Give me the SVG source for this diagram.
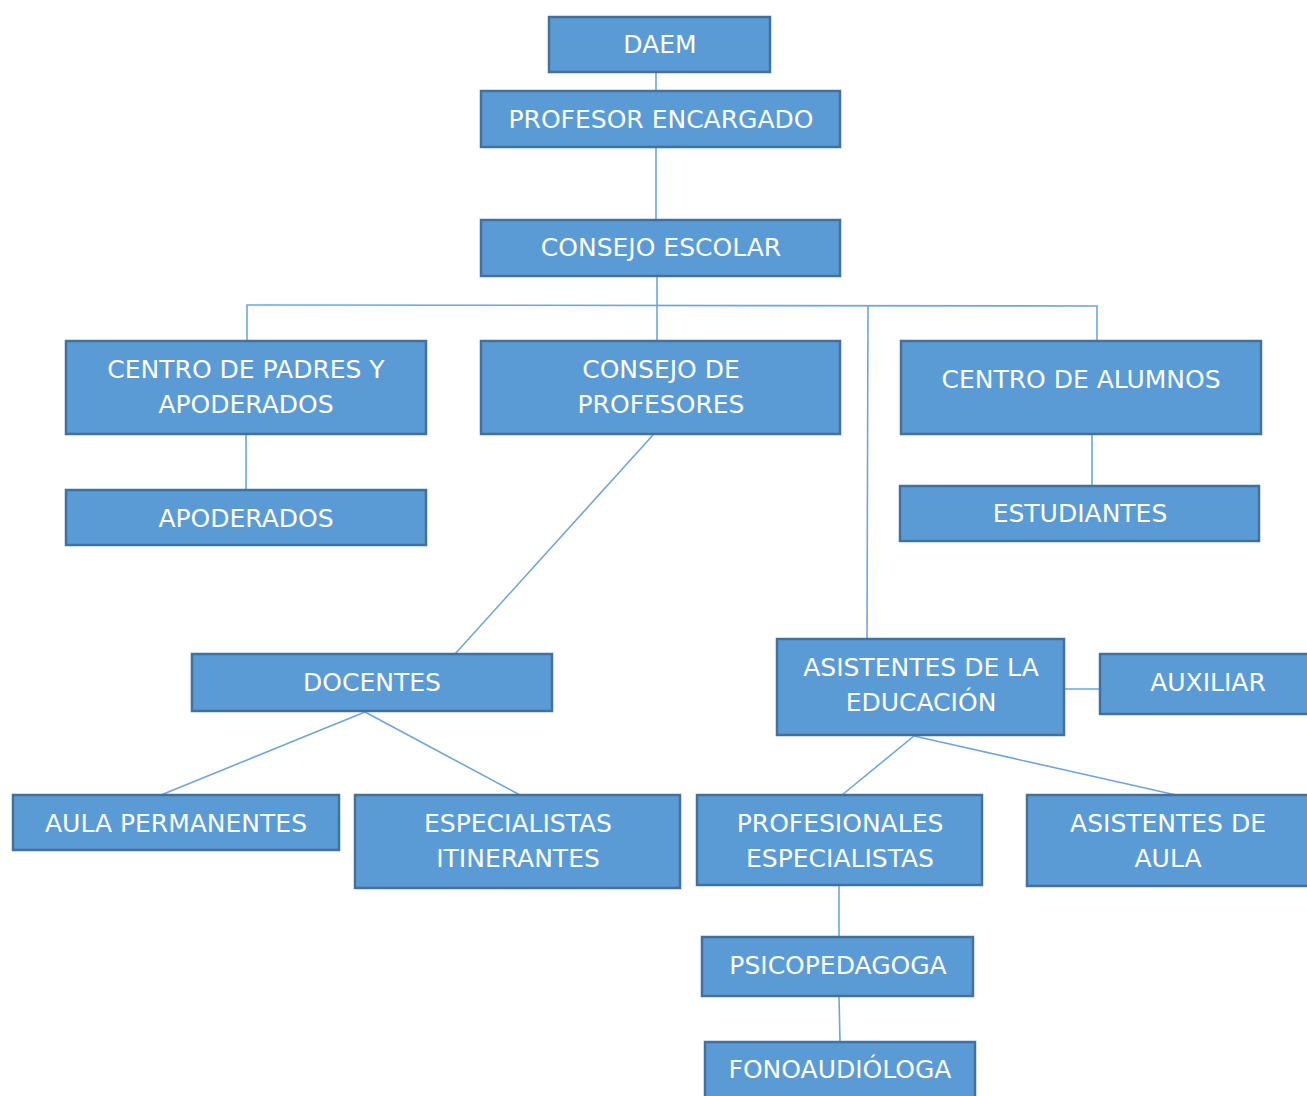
<svg xmlns="http://www.w3.org/2000/svg" width="1307" height="1096" viewBox="0 0 1307 1096">
<style>
.box{fill:#5B9BD5;stroke:#41719C;stroke-width:2.5}
.t{font-family:"DejaVu Sans","Verdana",sans-serif;font-size:25px;fill:#FFFFFF;text-anchor:middle}
.c{stroke:#6FA5DA;stroke-width:1.6;fill:none}
</style>
<rect width="1307" height="1096" fill="#FFFFFF"/>
<g id="connectors">
<line class="c" x1="656" y1="72" x2="656" y2="91"/>
<line class="c" x1="656" y1="147" x2="656" y2="220"/>
<line class="c" x1="657" y1="276" x2="657" y2="341"/>
<polyline class="c" points="247,341 247,305 1097,306 1097,341"/>
<line class="c" x1="868" y1="306" x2="867" y2="639"/>
<line class="c" x1="246" y1="434" x2="246" y2="490"/>
<line class="c" x1="653" y1="435" x2="455" y2="654"/>
<line class="c" x1="1092" y1="434" x2="1092" y2="486"/>
<line class="c" x1="365" y1="712" x2="161" y2="795"/>
<line class="c" x1="365" y1="712" x2="520" y2="795"/>
<line class="c" x1="1064" y1="689" x2="1100" y2="689"/>
<line class="c" x1="914" y1="736" x2="842" y2="795"/>
<line class="c" x1="914" y1="736" x2="1176" y2="795"/>
<line class="c" x1="839" y1="885" x2="839" y2="937"/>
<line class="c" x1="839" y1="996" x2="840" y2="1042"/>
</g>
<g id="daem"><rect class="box" x="549" y="17" width="221" height="55"/><text class="t" x="660" y="53">DAEM</text></g>
<g id="profesor"><rect class="box" x="481" y="91" width="359" height="56"/><text class="t" x="661" y="128">PROFESOR ENCARGADO</text></g>
<g id="consejo-escolar"><rect class="box" x="481" y="220" width="359" height="56"/><text class="t" x="661" y="256">CONSEJO ESCOLAR</text></g>
<g id="centro-padres"><rect class="box" x="66" y="341" width="360" height="93"/><text class="t" x="246" y="378">CENTRO DE PADRES Y</text><text class="t" x="246" y="413">APODERADOS</text></g>
<g id="consejo-profesores"><rect class="box" x="481" y="341" width="359" height="93"/><text class="t" x="661" y="378">CONSEJO DE</text><text class="t" x="661" y="413">PROFESORES</text></g>
<g id="centro-alumnos"><rect class="box" x="901" y="341" width="360" height="93"/><text class="t" x="1081" y="388">CENTRO DE ALUMNOS</text></g>
<g id="apoderados"><rect class="box" x="66" y="490" width="360" height="55"/><text class="t" x="246" y="527">APODERADOS</text></g>
<g id="estudiantes"><rect class="box" x="900" y="486" width="359" height="55"/><text class="t" x="1080" y="522">ESTUDIANTES</text></g>
<g id="docentes"><rect class="box" x="192" y="654" width="360" height="57"/><text class="t" x="372" y="691">DOCENTES</text></g>
<g id="asistentes-educacion"><rect class="box" x="777" y="639" width="287" height="96"/><text class="t" x="921" y="676">ASISTENTES DE LA</text><text class="t" x="921" y="711">EDUCACIÓN</text></g>
<g id="auxiliar"><rect class="box" x="1100" y="654" width="215" height="60"/><text class="t" x="1208" y="691">AUXILIAR</text></g>
<g id="aula-permanentes"><rect class="box" x="13" y="795" width="326" height="55"/><text class="t" x="176" y="832">AULA PERMANENTES</text></g>
<g id="especialistas-itinerantes"><rect class="box" x="355" y="795" width="325" height="93"/><text class="t" x="518" y="832">ESPECIALISTAS</text><text class="t" x="518" y="867">ITINERANTES</text></g>
<g id="profesionales-especialistas"><rect class="box" x="697" y="795" width="285" height="90"/><text class="t" x="840" y="832">PROFESIONALES</text><text class="t" x="840" y="867">ESPECIALISTAS</text></g>
<g id="asistentes-aula"><rect class="box" x="1027" y="795" width="285" height="91"/><text class="t" x="1168" y="832">ASISTENTES DE</text><text class="t" x="1168" y="867">AULA</text></g>
<g id="psicopedagoga"><rect class="box" x="702" y="937" width="271" height="59"/><text class="t" x="838" y="974">PSICOPEDAGOGA</text></g>
<g id="fonoaudiologa"><rect class="box" x="705" y="1042" width="270" height="60"/><text class="t" x="840" y="1078">FONOAUDIÓLOGA</text></g>
</svg>
